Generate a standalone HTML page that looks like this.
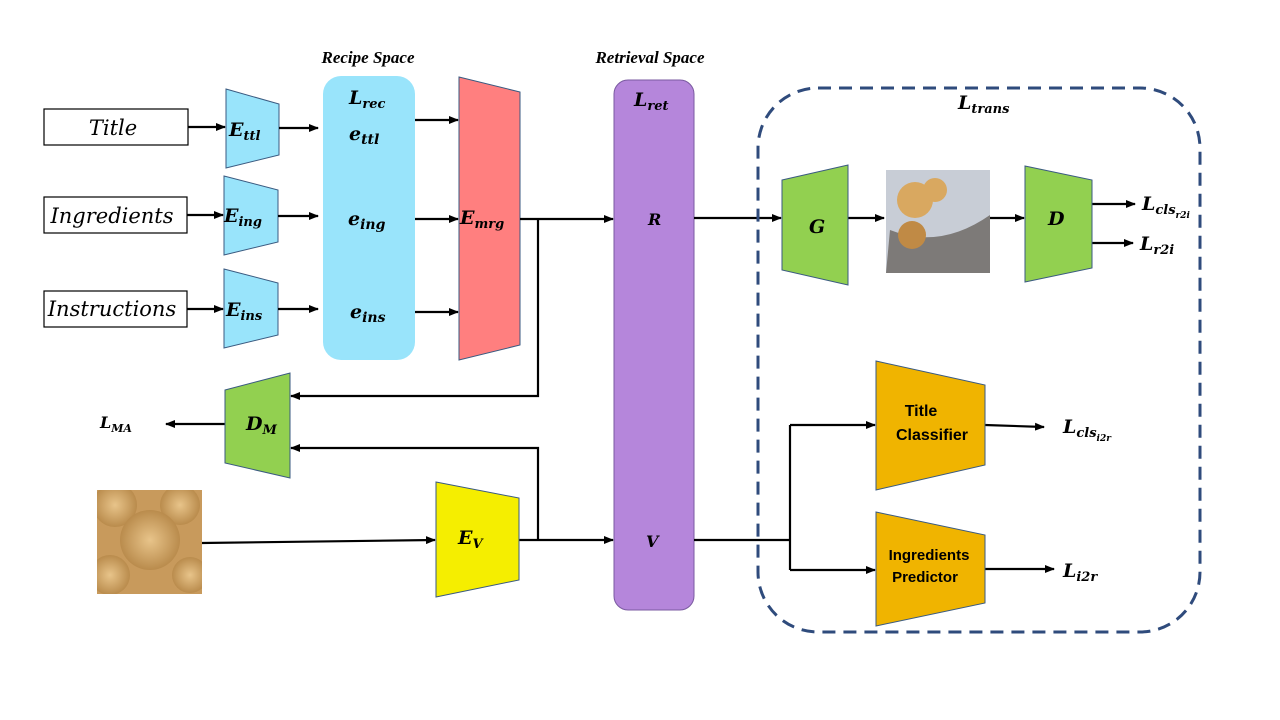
<!DOCTYPE html>
<html><head><meta charset="utf-8"><style>
html,body{margin:0;padding:0;background:#fff}
svg{display:block}
.m{font-family:"DejaVu Serif","Liberation Serif",serif;font-weight:bold;font-style:italic}
.l{font-family:"Liberation Serif",serif;font-weight:bold;font-style:italic;font-size:17px}
.b{font-family:"Liberation Sans",sans-serif;font-weight:bold;font-size:16px}
</style></head><body>
<svg width="1280" height="720" viewBox="0 0 1280 720" xmlns="http://www.w3.org/2000/svg">
<defs>
<marker id="a" markerWidth="10" markerHeight="8" refX="9" refY="4" orient="auto" markerUnits="userSpaceOnUse"><path d="M0,0 L10,4 L0,8 z" fill="#000"/></marker>
<radialGradient id="mf" cx="50%" cy="50%" r="60%"><stop offset="0" stop-color="#e8c48a"/><stop offset="1" stop-color="#b08040"/></radialGradient>
<clipPath id="c1"><rect x="97" y="490" width="105" height="104"/></clipPath>
</defs>
<rect x="0" y="0" width="1280" height="720" fill="#fff"/>
<text x="368" y="63" class="l" text-anchor="middle">Recipe Space</text>
<text x="650" y="63" class="l" text-anchor="middle">Retrieval Space</text>

<g fill="#fff" stroke="#000" stroke-width="1.2">
<rect x="44" y="109" width="144" height="36"/>
<rect x="44" y="197" width="143" height="36"/>
<rect x="44" y="291" width="143" height="36"/>
</g>
<g font-family="DejaVu Serif,serif" font-style="italic" font-size="21" text-anchor="middle">
<text x="113" y="135">Title</text>
<text x="112" y="223">Ingredients</text>
<text x="112" y="316">Instructions</text>
</g>

<g fill="#99e4fb" stroke="#3a5a80" stroke-width="1">
<polygon points="226,89 279,104 279,155 226,168"/>
<polygon points="224,176 278,190 278,242 224,255"/>
<polygon points="224,269 278,283 278,335 224,348"/>
</g>
<rect x="323" y="76" width="92" height="284" rx="18" fill="#99e4fb"/>
<polygon points="459,77 520,92 520,345 459,360" fill="#ff7f7f" stroke="#3a5a80" stroke-width="1"/>
<rect x="614" y="80" width="80" height="530" rx="14" fill="#b586db" stroke="#7a5aa0" stroke-width="1"/>

<g class="m" font-size="19">
<text x="229" y="136">E<tspan font-size="13" dy="4">ttl</tspan></text>
<text x="224" y="222">E<tspan font-size="13" dy="4">ing</tspan></text>
<text x="226" y="316">E<tspan font-size="13" dy="4">ins</tspan></text>
<text x="349" y="104">L<tspan font-size="13" dy="4">rec</tspan></text>
<text x="349" y="140">e<tspan font-size="14" dy="4">ttl</tspan></text>
<text x="348" y="225">e<tspan font-size="14" dy="4">ing</tspan></text>
<text x="350" y="318">e<tspan font-size="14" dy="4">ins</tspan></text>
<text x="460" y="224">E<tspan font-size="13" dy="4">mrg</tspan></text>
<text x="634" y="106">L<tspan font-size="13" dy="4">ret</tspan></text>
<text x="648" y="225" font-size="16">R</text>
<text x="646" y="547" font-size="16">V</text>
</g>

<g stroke="#000" stroke-width="2.2" fill="none">
<line x1="188" y1="127" x2="225" y2="127" marker-end="url(#a)"/>
<line x1="187" y1="215" x2="223" y2="215" marker-end="url(#a)"/>
<line x1="187" y1="309" x2="223" y2="309" marker-end="url(#a)"/>
<line x1="279" y1="128" x2="318" y2="128" marker-end="url(#a)"/>
<line x1="278" y1="216" x2="318" y2="216" marker-end="url(#a)"/>
<line x1="278" y1="309" x2="318" y2="309" marker-end="url(#a)"/>
<line x1="415" y1="120" x2="458" y2="120" marker-end="url(#a)"/>
<line x1="415" y1="219" x2="458" y2="219" marker-end="url(#a)"/>
<line x1="415" y1="312" x2="458" y2="312" marker-end="url(#a)"/>
<line x1="520" y1="219" x2="613" y2="219" marker-end="url(#a)"/>
<polyline points="538,219 538,396 291,396" marker-end="url(#a)"/>
<polyline points="538,540 538,448 291,448" marker-end="url(#a)"/>
<line x1="225" y1="424" x2="166" y2="424" marker-end="url(#a)"/>
<line x1="202" y1="543" x2="435" y2="540" marker-end="url(#a)"/>
<line x1="519" y1="540" x2="613" y2="540" marker-end="url(#a)"/>
<polyline points="694,540 790,540"/>
<line x1="790" y1="425" x2="790" y2="570"/>
<line x1="790" y1="425" x2="875" y2="425" marker-end="url(#a)"/>
<line x1="790" y1="570" x2="875" y2="570" marker-end="url(#a)"/>
<line x1="985" y1="425" x2="1044" y2="427" marker-end="url(#a)"/>
<line x1="985" y1="569" x2="1054" y2="569" marker-end="url(#a)"/>
<line x1="694" y1="218" x2="781" y2="218" marker-end="url(#a)"/>
<line x1="848" y1="218" x2="884" y2="218" marker-end="url(#a)"/>
<line x1="990" y1="218" x2="1024" y2="218" marker-end="url(#a)"/>
<line x1="1092" y1="204" x2="1135" y2="204" marker-end="url(#a)"/>
<line x1="1092" y1="243" x2="1133" y2="243" marker-end="url(#a)"/>
</g>

<polygon points="225,390 290,373 290,478 225,463" fill="#92d050" stroke="#3a5a80" stroke-width="1"/>
<polygon points="436,482 519,498 519,580 436,597" fill="#f5ee00" stroke="#3a5a80" stroke-width="1"/>
<g class="m" font-size="19">
<text x="246" y="430">D<tspan font-size="13" dy="4">M</tspan></text>
<text x="458" y="544">E<tspan font-size="13" dy="4">V</tspan></text>
<text x="100" y="428" font-size="16">L<tspan font-size="11" dy="4">MA</tspan></text>
</g>

<g clip-path="url(#c1)">
<rect x="97" y="490" width="105" height="104" fill="#c89a5c"/>
<circle cx="115" cy="505" r="22" fill="url(#mf)"/>
<circle cx="180" cy="505" r="20" fill="url(#mf)"/>
<circle cx="150" cy="540" r="30" fill="url(#mf)"/>
<circle cx="110" cy="575" r="20" fill="url(#mf)"/>
<circle cx="190" cy="575" r="18" fill="url(#mf)"/>
</g>

<rect x="758" y="88" width="442" height="544" rx="60" fill="none" stroke="#2f4b7c" stroke-width="3" stroke-dasharray="13,8"/>
<text x="958" y="109" class="m" font-size="19">L<tspan font-size="13" dy="4">trans</tspan></text>

<polygon points="782,180 848,165 848,285 782,270" fill="#92d050" stroke="#3a5a80" stroke-width="1"/>
<polygon points="1025,166 1092,180 1092,268 1025,282" fill="#92d050" stroke="#3a5a80" stroke-width="1"/>
<text x="809" y="233" class="m" font-size="19">G</text>
<text x="1048" y="225" class="m" font-size="19">D</text>

<rect x="886" y="170" width="104" height="103" fill="#c8cdd6"/>
<path d="M890,230 Q940,250 990,215 L990,273 L886,273 Z" fill="#7d7a78"/>
<circle cx="915" cy="200" r="18" fill="#d9a860"/>
<circle cx="935" cy="190" r="12" fill="#d9a860"/>
<circle cx="912" cy="235" r="14" fill="#c08a45"/>

<g class="m" font-size="19">
<text x="1142" y="210">L<tspan font-size="13" dy="4">cls</tspan><tspan font-size="9" dy="4">r2i</tspan></text>
<text x="1140" y="250">L<tspan font-size="13" dy="4">r2i</tspan></text>
<text x="1063" y="433">L<tspan font-size="13" dy="4">cls</tspan><tspan font-size="9" dy="4">i2r</tspan></text>
<text x="1063" y="577">L<tspan font-size="13" dy="4">i2r</tspan></text>
</g>

<polygon points="876,361 985,385 985,465 876,490" fill="#f0b400" stroke="#3a5a80" stroke-width="1"/>
<polygon points="876,512 985,535 985,603 876,626" fill="#f0b400" stroke="#3a5a80" stroke-width="1"/>
<g class="b" text-anchor="middle">
<text x="921" y="416">Title</text>
<text x="932" y="440">Classifier</text>
<text x="929" y="560" font-size="15">Ingredients</text>
<text x="925" y="582" font-size="15">Predictor</text>
</g>
</svg>
</body></html>
